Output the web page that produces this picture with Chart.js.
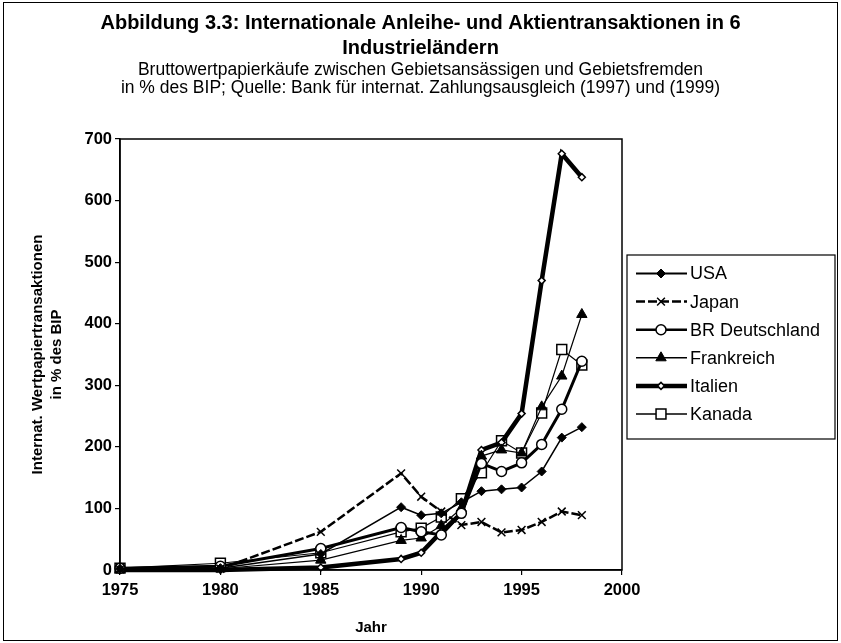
<!DOCTYPE html>
<html lang="de">
<head>
  <meta charset="UTF-8">
  <title>Abbildung 3.3 - Internationale Anleihe- und Aktientransaktionen</title>
  <script src="https://cdn.jsdelivr.net/npm/chart.js"></script>
  <style>
    html, body { margin: 0; padding: 0; background: #fff; }
  </style>
</head>
<body>
  <canvas id="chart" width="841" height="643"></canvas>

  <script>
    // Daten
    const jahre = [1975, 1980, 1985, 1989, 1990, 1991, 1992, 1993, 1994, 1995, 1996, 1997, 1998];
    const usa        = [2, 3, 26, 102, 89, 92, 110, 128, 131, 134, 160, 215, 232];
    const japan      = [1, 2, 62, 157, 119, 95, 73, 78, 61, 65, 78, 95, 89];
    const deutschland = [3, 6, 35, 69, 62, 57, 92, 173, 160, 174, 204, 261, 339];
    const frankreich = [1, 2, 16, 48, 52, 72, 100, 185, 195, 190, 265, 315, 415];
    const italien    = [0, 0, 4, 18, 28, 62, 92, 195, 207, 254, 470, 676, 638];
    const kanada     = [3, 11, 28, 62, 68, 86, 116, 158, 210, 190, 255, 358, 333];

    const xTicks = [1975, 1980, 1985, 1990, 1995, 2000];
    const yTicks = [0, 100, 200, 300, 400, 500, 600, 700];

    const schrift = 'Liberation Sans, Arial, sans-serif';

    function punkte(werte) {
      return werte.map((v, i) => ({ x: jahre[i], y: v }));
    }

    const datasets = [
      { label: 'USA', data: punkte(usa), borderWidth: 1.5, pointStyle: 'rectRot', pointRadius: 4.5,
        pointBackgroundColor: '#000', pointBorderWidth: 1, legendLine: 2 },
      { label: 'Japan', data: punkte(japan), borderWidth: 2.5, borderDash: [9, 3], pointStyle: 'crossRot',
        pointRadius: 5.5, pointBorderWidth: 1.5, pointBackgroundColor: '#000', legendLine: 2.5 },
      { label: 'BR Deutschland', data: punkte(deutschland), borderWidth: 3, pointStyle: 'circle', pointRadius: 5,
        pointBackgroundColor: '#fff', pointBorderWidth: 1.5, legendLine: 2.5 },
      { label: 'Frankreich', data: punkte(frankreich), borderWidth: 1.2, pointStyle: 'triangle', pointRadius: 6,
        pointBackgroundColor: '#000', pointBorderWidth: 1, legendLine: 1.5 },
      { label: 'Italien', data: punkte(italien), borderWidth: 4.5, pointStyle: 'rectRot', pointRadius: 3.5,
        pointBackgroundColor: '#fff', pointBorderWidth: 1.5, legendLine: 4.5 },
      { label: 'Kanada', data: punkte(kanada), borderWidth: 1.2, pointStyle: 'rect', pointRadius: 7,
        pointBackgroundColor: '#fff', pointBorderWidth: 1.5, legendLine: 1.5 }
    ];
    datasets.forEach(d => {
      d.borderColor = '#000';
      d.pointBorderColor = '#000';
      d.fill = false;
      d.tension = 0;
      d.clip = false;
    });

    // Rahmen um Diagrammfläche und Bild, Legende rechts
    const rahmen = {
      id: 'rahmen',
      afterDraw(chart) {
        const { ctx, chartArea: a } = chart;
        ctx.save();
        ctx.strokeStyle = '#000';
        ctx.lineWidth = 1.5;
        ctx.strokeRect(a.left, a.top, a.right - a.left, a.bottom - a.top);
        ctx.lineWidth = 1;
        ctx.strokeRect(3.5, 2.5, 834, 638);

        // Legende
        const lx = 627, ly = 255, lw = 208, lh = 184;
        ctx.lineWidth = 1.2;
        ctx.strokeRect(lx, ly, lw, lh);
        ctx.font = '18px ' + schrift;
        ctx.textBaseline = 'middle';
        ctx.fillStyle = '#000';
        chart.data.datasets.forEach((d, i) => {
          const y = 273.5 + i * 28.1;
          ctx.save();
          ctx.lineWidth = d.legendLine;
          ctx.setLineDash(d.borderDash || []);
          ctx.beginPath();
          ctx.moveTo(636, y);
          ctx.lineTo(687, y);
          ctx.stroke();
          ctx.restore();
          ctx.save();
          ctx.fillStyle = d.pointBackgroundColor;
          ctx.strokeStyle = '#000';
          ctx.lineWidth = d.pointBorderWidth;
          Chart.helpers.drawPoint(ctx, {
            pointStyle: d.pointStyle,
            radius: d.pointRadius,
            borderWidth: d.pointBorderWidth,
            rotation: 0
          }, 661, y);
          ctx.restore();
          ctx.fillText(d.label, 690, y + 1);
        });
        ctx.restore();
      }
    };

    new Chart(document.getElementById('chart'), {
      type: 'line',
      data: { datasets },
      options: {
        responsive: false,
        animation: false,
        layout: { padding: 0 },
        plugins: {
          legend: { display: false },
          tooltip: { enabled: false },
          title: {
            display: true,
            text: ['Abbildung 3.3: Internationale Anleihe- und Aktientransaktionen in 6', 'Industrieländern'],
            color: '#000',
            font: { family: schrift, size: 20, weight: 'bold', lineHeight: 25 / 20 },
            padding: { top: 11, bottom: 0 }
          },
          subtitle: {
            display: true,
            text: ['Bruttowertpapierkäufe zwischen Gebietsansässigen und Gebietsfremden',
                   'in % des BIP; Quelle: Bank für internat. Zahlungsausgleich (1997) und (1999)'],
            color: '#000',
            font: { family: schrift, size: 17.5, lineHeight: 18 / 17.5 },
            padding: { top: 0, bottom: 42 }
          }
        },
        scales: {
          x: {
            type: 'linear',
            min: 1975,
            max: 2000,
            afterBuildTicks: s => { s.ticks = xTicks.map(v => ({ value: v })); },
            afterFit: s => { s.height = 73; },
            ticks: {
              callback: v => String(v),
              color: '#000',
              font: { family: schrift, size: 16.5, weight: 'bold' },
              padding: 6,
              maxRotation: 0
            },
            grid: { drawOnChartArea: false, tickLength: 5, color: '#000', lineWidth: 1.2 },
            border: { color: '#000', width: 1.5 },
            title: {
              display: true,
              text: 'Jahr',
              color: '#000',
              font: { family: schrift, size: 15, weight: 'bold' },
              padding: { top: 0, bottom: 6 }
            }
          },
          y: {
            min: 0,
            max: 700,
            afterBuildTicks: s => { s.ticks = yTicks.map(v => ({ value: v })); },
            afterFit: s => { s.width = 120; },
            ticks: {
              callback: v => String(v),
              color: '#000',
              font: { family: schrift, size: 16.5, weight: 'bold' },
              padding: 3
            },
            grid: { drawOnChartArea: false, tickLength: 5, color: '#000', lineWidth: 1.2 },
            border: { color: '#000', width: 1.5 },
            title: {
              display: true,
              text: ['Internat. Wertpapiertransaktionen', 'in % des BIP'],
              color: '#000',
              font: { family: schrift, size: 15, weight: 'bold', lineHeight: 19 / 15 },
              padding: { top: 28.5, bottom: 0 }
            }
          },
          // Platzhalter rechts für die Legende
          legendenPlatz: {
            position: 'right',
            display: true,
            afterFit: s => { s.width = 219; },
            ticks: { display: false },
            grid: { display: false },
            border: { display: false }
          }
        }
      },
      plugins: [rahmen]
    });
  </script>
</body>
</html>
